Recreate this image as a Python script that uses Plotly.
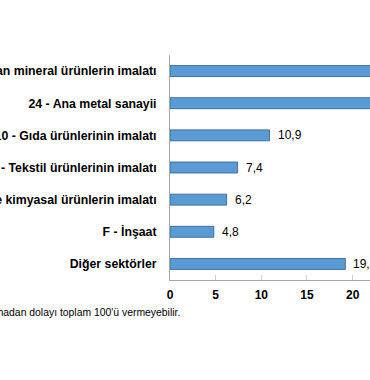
import plotly.graph_objects as go

categories = [
    "23 - Diğer metalik olmayan mineral ürünlerin imalatı",
    "24 - Ana metal sanayii",
    "10 - Gıda ürünlerinin imalatı",
    "13 - Tekstil ürünlerinin imalatı",
    "20 - Kimyasallar ve kimyasal ürünlerin imalatı",
    "F - İnşaat",
    "Diğer sektörler",
]
values = [23.6, 22.9, 10.9, 7.4, 6.2, 4.8, 19.2]
tick_vals = [0, 5, 10, 15, 20]
footnote = "Yuvarlamadan dolayı toplam 100'ü vermeyebilir."

W, H = 370, 380
ML, MR, MT, MB = 170, 0, 55, 100
PW, PH = W - ML - MR, H - MT - MB

fig = go.Figure()
fig.add_trace(go.Bar(
    x=values, y=categories, orientation="h",
    marker=dict(color="#5B9BD5", line=dict(color="#41719C", width=1)),
    hoverinfo="skip",
))

for v, c in zip(values, categories):
    fig.add_annotation(
        x=v, y=c, xref="x", yref="y", text=f"{v:.1f}".replace(".", ","),
        showarrow=False, xanchor="left", yanchor="middle", xshift=6,
        font=dict(family="Liberation Sans, Arial, sans-serif", size=12, color="#000000"),
    )

fig.add_annotation(
    x=(182 - ML) / PW, y=(280 - 312) / PH,
    xref="paper", yref="paper", text=footnote, showarrow=False,
    xanchor="right", yanchor="middle",
    font=dict(family="Liberation Sans, Arial, sans-serif", size=10.4, color="#000000"),
)

fig.update_layout(
    width=W, height=H,
    margin=dict(l=ML, r=MR, t=MT, b=MB, pad=0),
    paper_bgcolor="white", plot_bgcolor="white",
    showlegend=False, bargap=0.66,
    font=dict(family="Liberation Sans, Arial, sans-serif", size=12, color="#000000"),
)
fig.update_xaxes(
    range=[0, 21.9], tickvals=tick_vals, ticktext=[str(t) for t in tick_vals],
    showgrid=False, zeroline=False, showline=True, linecolor="#A6A6A6", linewidth=1,
    ticks="inside", ticklen=5, tickcolor="#D0D0D0",
    tickfont=dict(family="Liberation Sans, Arial, sans-serif", size=12, color="#000000", weight="bold"),
    automargin=False, fixedrange=True, ticklabelstandoff=4,
)
fig.update_yaxes(
    autorange="reversed", showgrid=False, zeroline=False,
    showline=True, linecolor="#A6A6A6", linewidth=1, ticks="",
    tickfont=dict(family="Liberation Sans, Arial, sans-serif", size=12.3, color="#000000", weight="bold"),
    automargin=False, fixedrange=True, ticklabelstandoff=10,
)

fig.write_html(
    "out.html",
    config={"displayModeBar": False},
    post_script="document.body.style.margin='0';document.body.style.overflow='hidden';",
)
